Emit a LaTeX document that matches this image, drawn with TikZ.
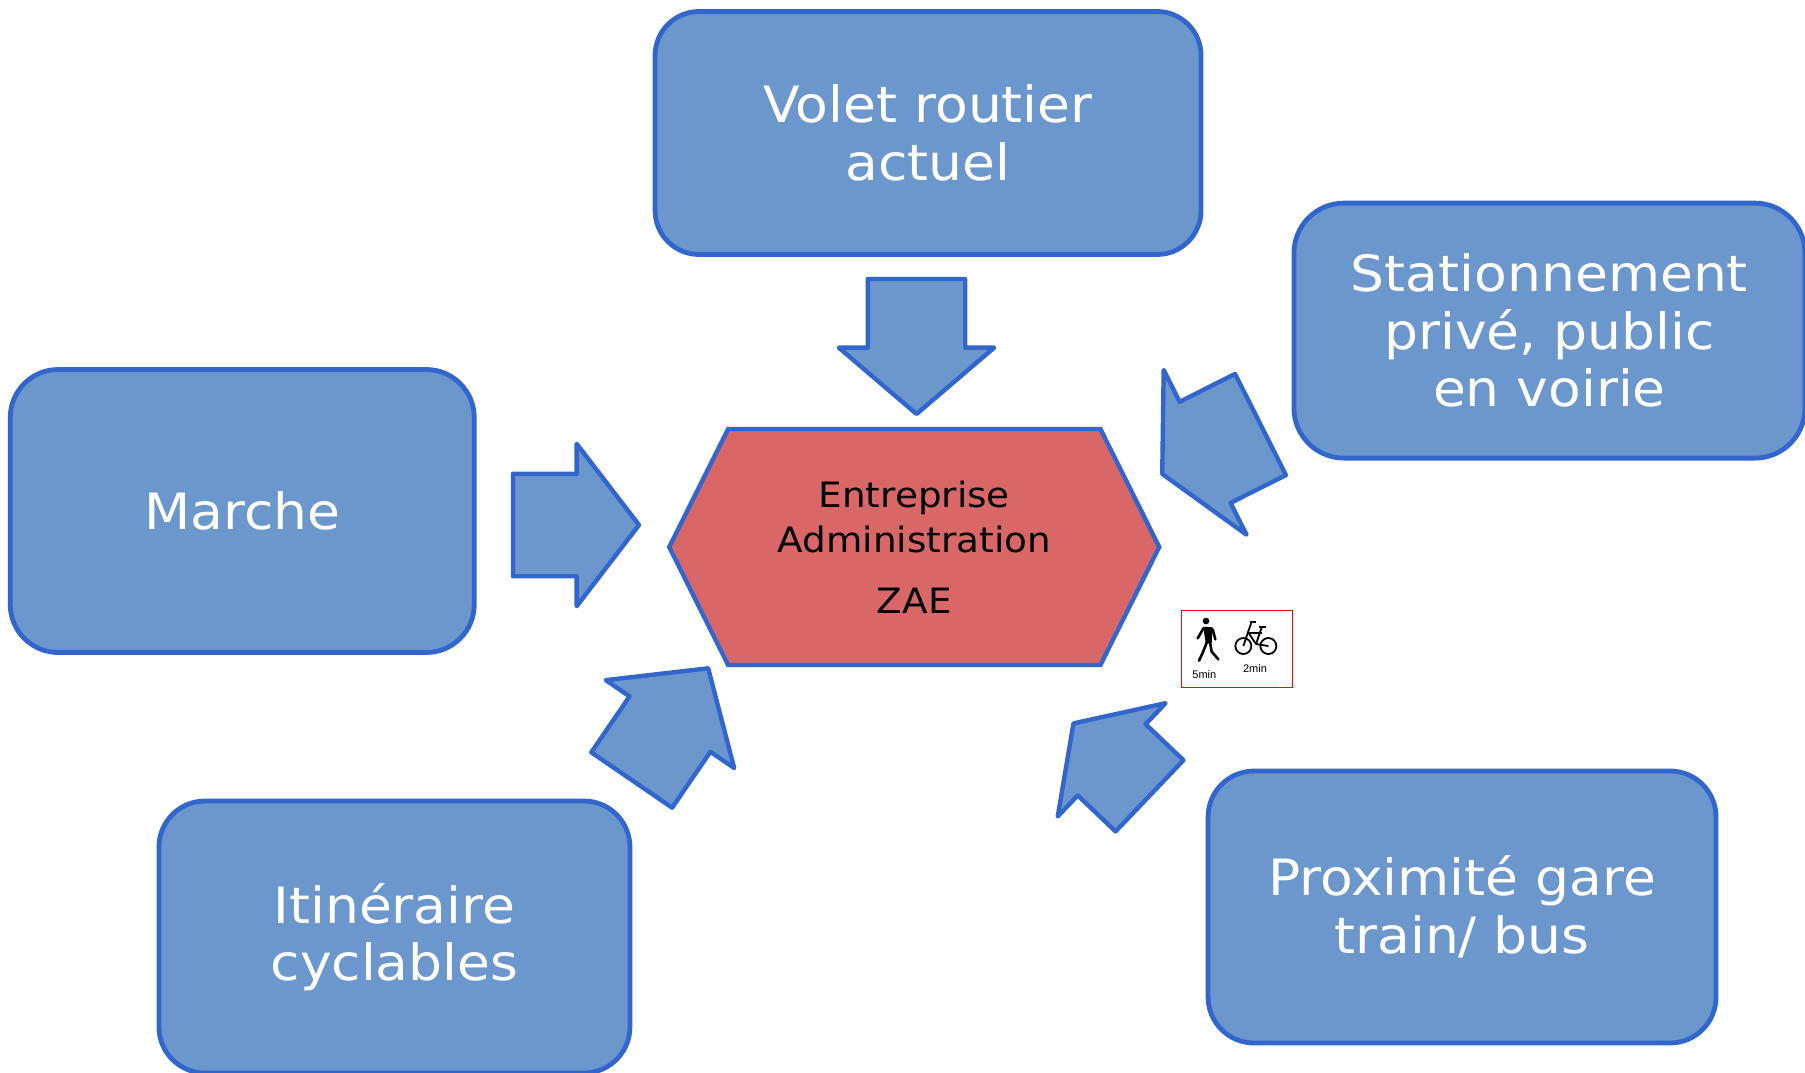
\documentclass[tikz,border=0pt]{standalone}
\usepackage{fontspec}
\setmainfont[FakeStretch=1.07]{DejaVu Sans}
\newfontfamily\pictofont{Liberation Sans}
\usetikzlibrary{shapes,shapes.arrows,shapes.symbols,positioning}
\definecolor{boxblue}{HTML}{6C97CD}
\definecolor{boxline}{HTML}{3366CC}
\definecolor{hexred}{HTML}{D96767}
\tikzstyle{theme} = [rectangle, draw=boxline, fill=boxblue, line width=2.4pt, text=white, align=center, font=\fontsize{25}{28.8}\selectfont]
\tikzstyle{zone} = [signal, signal to=west and east, signal pointer angle=127, draw=boxline, fill=hexred, line width=2.2pt, align=center, inner sep=0pt, minimum width=245pt, minimum height=118pt, font=\fontsize{17.45}{22.5}\selectfont]
\tikzstyle{pointer} = [single arrow, single arrow head indent=0pt, draw=boxline, fill=boxblue, line width=2.2pt, line join=round, anchor=tail, outer sep=0pt, inner xsep=0pt]
\tikzstyle{walk} = [line width=1.3pt, line cap=round, line join=round]
\tikzstyle{bike} = [line width=0.9pt, line join=round]
\tikzstyle{minutes} = [inner sep=0pt, font=\pictofont\fontsize{5.5}{6}\selectfont]

\begin{document}
\begin{tikzpicture}[x=0.5pt,y=-0.5pt]
	\useasboundingbox (0,0) rectangle (1805,1072);
	%Place nodes
	\node [zone] (Zone) at (914.25,547) {Entreprise\\Administration\\[8pt]ZAE};
	\node [theme, above of=Zone, node distance=207pt, xshift=6.9pt, minimum width=273pt, minimum height=121.5pt, rounded corners=22pt] (Volet) {Volet routier\\actuel};
	\node [theme, above of=Zone, node distance=108.2pt, xshift=317.6pt, minimum width=255.5pt, minimum height=127.5pt, rounded corners=25pt] (Stationnement) {Stationnement\\privé, public\\en voirie};
	\node [theme, above of=Zone, node distance=18pt, xshift=-336pt, minimum width=232pt, minimum height=141.5pt, rounded corners=24pt] (Marche) {Marche};
	\node [theme, below of=Zone, node distance=195pt, xshift=-259.9pt, minimum width=235.5pt, minimum height=136pt, rounded corners=23pt] (Itineraire) {Itinéraire\\cyclables};
	\node [theme, below of=Zone, node distance=180pt, xshift=273.9pt, minimum width=254pt, minimum height=136pt, rounded corners=23pt] (Proximite) {Proximité gare\\train/ bus};

	%Place arrows
	\node [pointer, rotate=-90, minimum height=67.5pt, inner ysep=23.25pt, single arrow head extend=14.5pt, single arrow tip angle=99] (VoletArrow) at (916.5,279) {};
	\node [pointer, rotate=206.7, minimum height=55pt, inner ysep=27.2pt, single arrow head extend=17.8pt, single arrow tip angle=125] (StationnementArrow) at (1260.5,424.5) {};
	\node [pointer, rotate=0, minimum height=63pt, inner ysep=24.5pt, single arrow head extend=15pt, single arrow tip angle=105] (MarcheArrow) at (513,525) {};
	\node [pointer, rotate=55.6, minimum height=67.7pt, inner ysep=23.4pt, single arrow head extend=14.4pt, single arrow tip angle=98] (ItineraireArrow) at (631.7,780) {};
	\node [pointer, rotate=136.4, minimum height=52.5pt, inner ysep=23.5pt, single arrow head extend=14.5pt, single arrow tip angle=112] (ProximiteArrow) at (1149.5,795.8) {};

	%Pictogram
	\node [draw=red, line width=0.6pt, minimum width=55.3pt, minimum height=38.3pt, inner sep=0pt] (Picto) at (1237,649) {};
	\begin{scope}[shift={(1160,590)},x=0.1667pt,y=-0.1667pt]
		\fill (138,93) circle (10);
		\fill (130,110) -- (158,112) -- (155,160) -- (137,160) -- cycle;
		\draw [walk] (130,115) -- (113,145);
		\draw [walk] (158,118) -- (166,148);
		\draw [walk] (140,158) -- (128,188) -- (117,212);
		\draw [walk] (150,158) -- (155,185) -- (175,208);
		\draw [bike] (250,168) circle (24);
		\draw [bike] (325,168) circle (24);
		\draw [bike] (270,97) -- (287,97);
		\draw [bike] (250,168) -- (274,97);
		\draw [bike] (263,130) -- (305,130);
		\draw [bike] (298,112) -- (317,112);
		\draw [bike] (305,112) -- (288,162) -- (325,168);
		\draw [bike] (265,128) -- (288,162);
	\end{scope}
	\node [minutes] (WalkTime) at (1204.3,675) {5min};
	\node [minutes] (BikeTime) at (1255,669) {2min};
\end{tikzpicture}
\end{document}
